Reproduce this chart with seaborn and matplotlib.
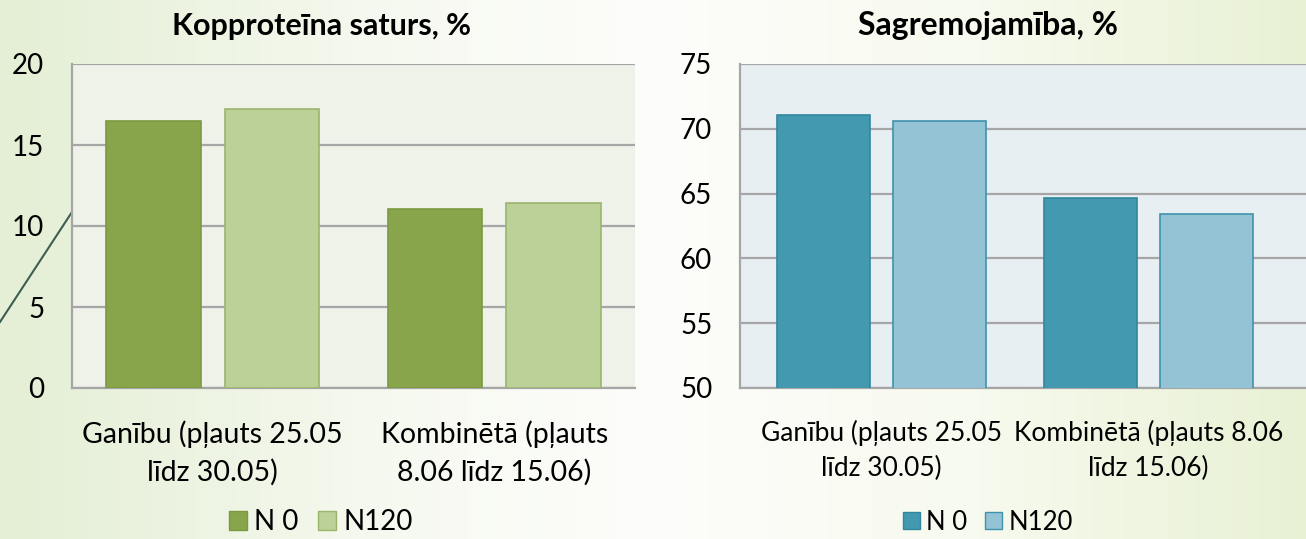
import numpy as np
import pandas as pd
import seaborn as sns
import matplotlib.pyplot as plt
from matplotlib.lines import Line2D

plt.rcParams['font.family'] = ['Lato', 'DejaVu Sans']

# data
cats_left = ['Ganību (pļauts 25.05\nlīdz 30.05)', 'Kombinētā (pļauts\n8.06 līdz 15.06)']
cats_right = ['Ganību (pļauts 25.05\nlīdz 30.05)', 'Kombinētā (pļauts 8.06\nlīdz 15.06)']
series = ['N 0', 'N120']
protein_n0 = [16.5, 11.05]
protein_n120 = [17.2, 11.4]
digest_n0 = [71.1, 64.65]
digest_n120 = [70.6, 63.4]

W, H = 1306, 539
fig = plt.figure(figsize=(W / 100, H / 100), dpi=100)

# background gradient + decorative line
bg = fig.add_axes([0, 0, 1, 1], zorder=-10)
stops_x = [0.0, 0.3, 0.5, 0.75, 1.0]
stops_c = np.array([[228, 239, 213], [246, 249, 240], [253, 253, 251],
                    [247, 250, 238], [232, 241, 212]]) / 255
xs = np.linspace(0, 1, 400)
row = np.stack([np.interp(xs, stops_x, stops_c[:, k]) for k in range(3)], axis=-1)
bg.imshow(row[None, :, :], aspect='auto', extent=[0, 1, 0, 1])
bg.add_line(Line2D([0, 72 / W], [1 - 322 / H, 1 - 212 / H], color='#3d5e52', lw=1.5))
bg.set_xlim(0, 1)
bg.set_ylim(0, 1)
bg.axis('off')


def panel(rect, cats, v0, v1, face, cols, edges, ylim, yticks, xlim, width,
          title, cx, fs, tfs):
    ax = fig.add_axes(rect)
    df = pd.DataFrame({'cat': cats * 2, 'val': v0 + v1,
                       'N': [series[0]] * 2 + [series[1]] * 2})
    sns.barplot(data=df, x='cat', y='val', hue='N', palette=cols, width=width,
                gap=0.2, saturation=1, ax=ax, legend=False, zorder=3)
    for cont, ec in zip(ax.containers, edges):
        for p in cont:
            p.set_edgecolor(ec)
            p.set_linewidth(1.2)
    ax.set_facecolor(face)
    ax.set_ylim(*ylim)
    ax.set_yticks(yticks)
    ax.set_xlim(*xlim)
    ax.grid(axis='y', color='#a6a6a6', lw=1.6, zorder=0)
    ax.set_axisbelow(True)
    for s in ['top', 'right']:
        ax.spines[s].set_visible(False)
    for s in ['left', 'bottom']:
        ax.spines[s].set_color('#a6a6a6')
        ax.spines[s].set_linewidth(1.6)
    ax.tick_params(axis='y', length=0, pad=20, labelsize=20)
    ax.tick_params(axis='x', length=0, pad=23, labelsize=fs)
    for t in ax.get_xticklabels():
        t.set_linespacing(1.5)
    ax.set_xlabel('')
    ax.set_ylabel('')
    fig.text(cx / W, 1 - 26 / H, title, ha='center', va='center',
             fontsize=tfs, fontweight='bold')
    handles = [plt.Rectangle((0, 0), 1, 1, facecolor=c, edgecolor=e)
               for c, e in zip(cols, edges)]
    fig.legend(handles, series, loc='center', bbox_to_anchor=(cx / W, 1 - 522 / H),
               ncol=2, frameon=False, fontsize=fs - 0.5, handlelength=0.65,
               handleheight=0.65, handletextpad=0.25, columnspacing=0.7)
    return ax


def rect(x0, x1, y0, y1):
    return [x0 / W, 1 - y1 / H, (x1 - x0) / W, (y1 - y0) / H]


panel(rect(72, 635, 64, 388), cats_left, protein_n0, protein_n120,
      '#eff2e9', ['#88a54c', '#bbd197'], ['#7b9a40', '#9bb56d'],
      (0, 20), [0, 5, 10, 15, 20], (-0.5, 1.5), 0.84,
      'Kopproteīna saturs, %', 321, 20.5, 22)

panel(rect(740, 1306, 64, 388), cats_right, digest_n0, digest_n120,
      '#e8eff3', ['#4299b0', '#93c3d5'], ['#31869d', '#3f92ab'],
      (50, 75), [50, 55, 60, 65, 70, 75], (-0.53, 1.59), 0.87,
      'Sagremojamība, %', 988, 19, 23)

fig.savefig('out.png', dpi=100)
